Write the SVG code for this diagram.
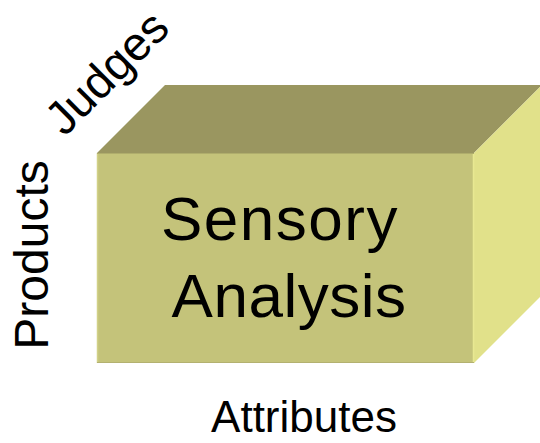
<svg xmlns="http://www.w3.org/2000/svg" width="540" height="443" viewBox="0 0 540 443">
  <style>
    .lbl { font-family: "Liberation Sans", Arial, sans-serif; fill: #000000; }
  </style>
  <rect width="540" height="443" fill="#ffffff"/>

  <!-- data cube -->
  <g id="cube">
    <polygon points="97,153 165,85 542,85 474,153" fill="#9A9660"/>
    <polygon points="474,153 542,85 542,295 474,363" fill="#E1E18A"/>
    <rect x="97" y="153" width="377" height="210" fill="#C4C37A"/>
    <!-- soft bevel on the front face edges -->
    <line x1="97.5" y1="153" x2="97.5" y2="363" stroke="#D2D188" stroke-width="1.5"/>
    <line x1="473.5" y1="153" x2="473.5" y2="363" stroke="#E8E892" stroke-width="1.5"/>
    <line x1="97" y1="153.5" x2="474" y2="153.5" stroke="#AFAD6C" stroke-width="1"/>
    <line x1="97" y1="362.5" x2="474" y2="362.5" stroke="#B3B170" stroke-width="1"/>
  </g>

  <g id="title">
    <text class="lbl" x="280" y="240" font-size="62" letter-spacing="1.5" text-anchor="middle">Sensory</text>
    <text class="lbl" x="289" y="317" font-size="62" letter-spacing="0.5" text-anchor="middle">Analysis</text>
  </g>

  <g id="axis-products">
    <text class="lbl" font-size="48" text-anchor="middle" transform="translate(48,255) rotate(-90)">Products</text>
  </g>

  <g id="axis-judges">
    <text class="lbl" font-size="47" text-anchor="middle" transform="translate(118,84) rotate(-45)">Judges</text>
  </g>

  <g id="axis-attributes">
    <text class="lbl" x="304" y="432" font-size="44" text-anchor="middle">Attributes</text>
  </g>

  <g id="connectors"/>
</svg>
